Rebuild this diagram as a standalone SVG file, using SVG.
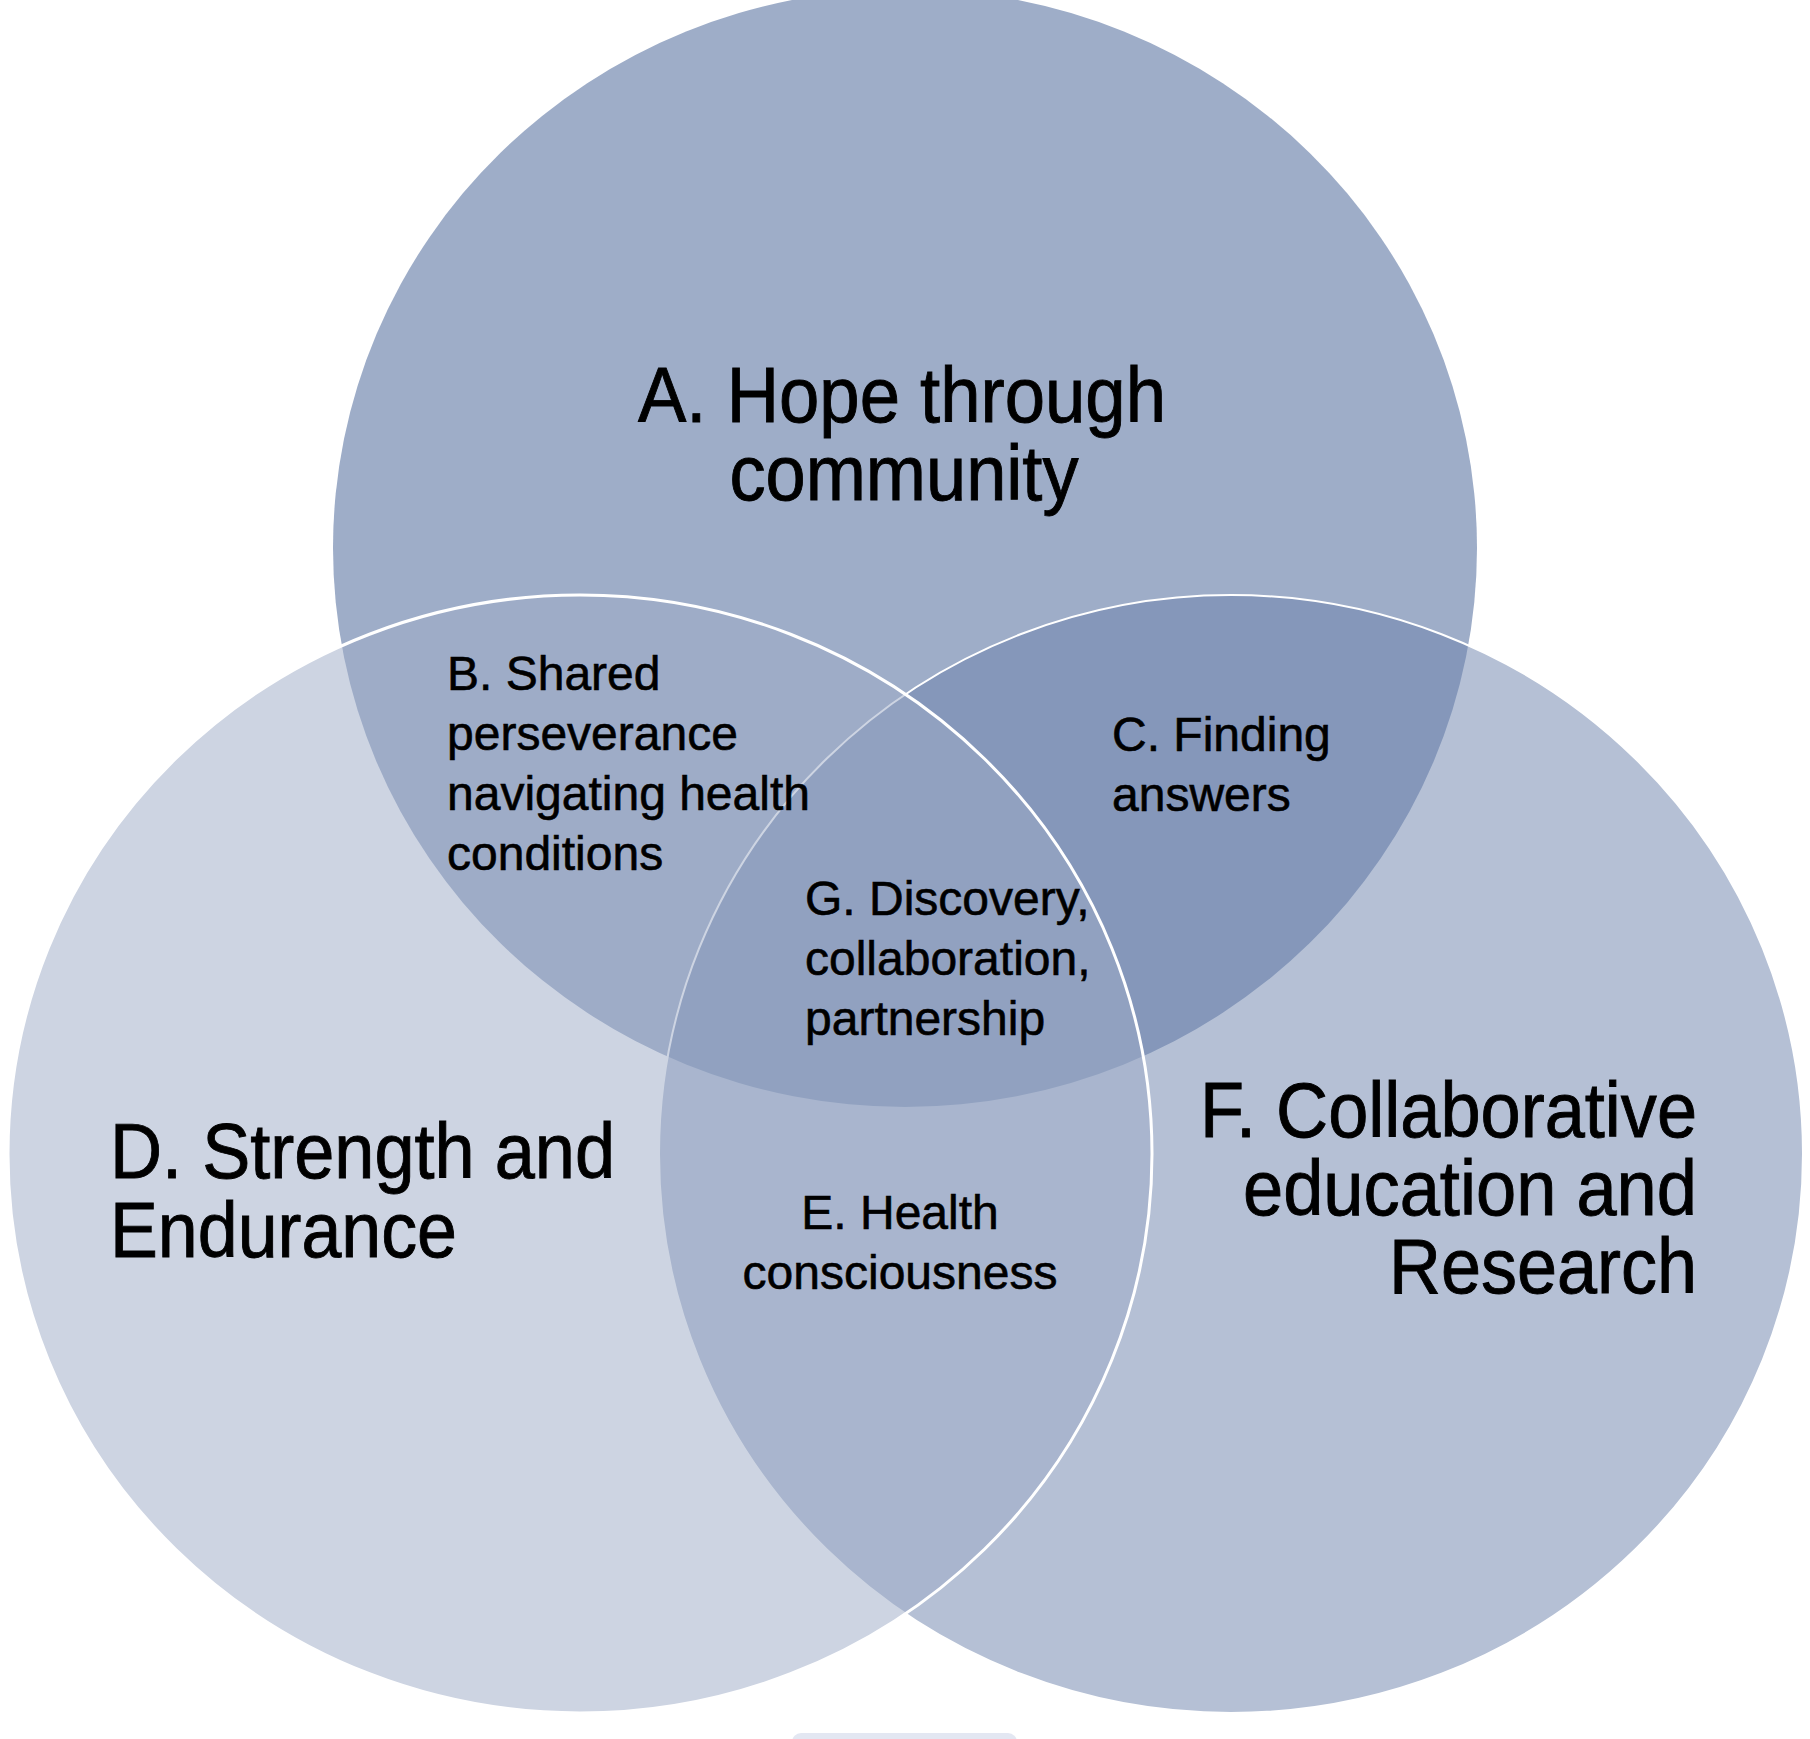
<svg xmlns="http://www.w3.org/2000/svg" width="1810" height="1739" viewBox="0 0 1810 1739">
  <style>
    .big { font-family: "Liberation Sans", Arial, sans-serif; font-size: 77px; fill: #000; stroke: #000; stroke-width: 0.9px; }
    .small { font-family: "Liberation Sans", Arial, sans-serif; font-size: 48px; fill: #000; stroke: #000; stroke-width: 0.6px; }
    .mid { text-anchor: middle; }
    .end { text-anchor: end; }
  </style>
  <rect x="0" y="0" width="1810" height="1739" fill="#ffffff"/>
  <g id="connectors"></g>
  <rect id="bottom-bar" x="792" y="1733" width="225" height="20" rx="9" fill="#e3e7f2"/>
  <g id="node-A">
    <ellipse cx="905" cy="548" rx="572" ry="559" fill="#9eadc8"/>
    <text class="big mid" x="902" y="422" textLength="528" lengthAdjust="spacingAndGlyphs">A. Hope through</text>
    <text class="big mid" x="904" y="500" textLength="349" lengthAdjust="spacingAndGlyphs">community</text>
  </g>
  <g id="node-F">
    <ellipse cx="1231" cy="1154" rx="572" ry="559" fill="rgb(107,129,172)" fill-opacity="0.5" stroke="#ffffff" stroke-width="2"/>
    <text class="big end" x="1697" y="1137" textLength="497" lengthAdjust="spacingAndGlyphs">F. Collaborative</text>
    <text class="big end" x="1697" y="1215" textLength="454" lengthAdjust="spacingAndGlyphs">education and</text>
    <text class="big end" x="1697" y="1293" textLength="308" lengthAdjust="spacingAndGlyphs">Research</text>
  </g>
  <g id="node-D">
    <ellipse cx="580" cy="1154" rx="572" ry="559" fill="rgb(158,172,199)" fill-opacity="0.515" stroke="#ffffff" stroke-width="3"/>
    <text class="big" x="110" y="1178" textLength="505" lengthAdjust="spacingAndGlyphs">D. Strength and</text>
    <text class="big" x="110" y="1257" textLength="347" lengthAdjust="spacingAndGlyphs">Endurance</text>
  </g>
  <g id="overlap-B">
    <text class="small" x="447" y="690">B. Shared</text>
    <text class="small" x="447" y="750">perseverance</text>
    <text class="small" x="447" y="810">navigating health</text>
    <text class="small" x="447" y="870">conditions</text>
  </g>
  <g id="overlap-C">
    <text class="small" x="1112" y="751">C. Finding</text>
    <text class="small" x="1112" y="811">answers</text>
  </g>
  <g id="overlap-G">
    <text class="small" x="805" y="915">G. Discovery,</text>
    <text class="small" x="805" y="975">collaboration,</text>
    <text class="small" x="805" y="1035">partnership</text>
  </g>
  <g id="overlap-E">
    <text class="small mid" x="900" y="1229">E. Health</text>
    <text class="small mid" x="900" y="1289">consciousness</text>
  </g>
</svg>
